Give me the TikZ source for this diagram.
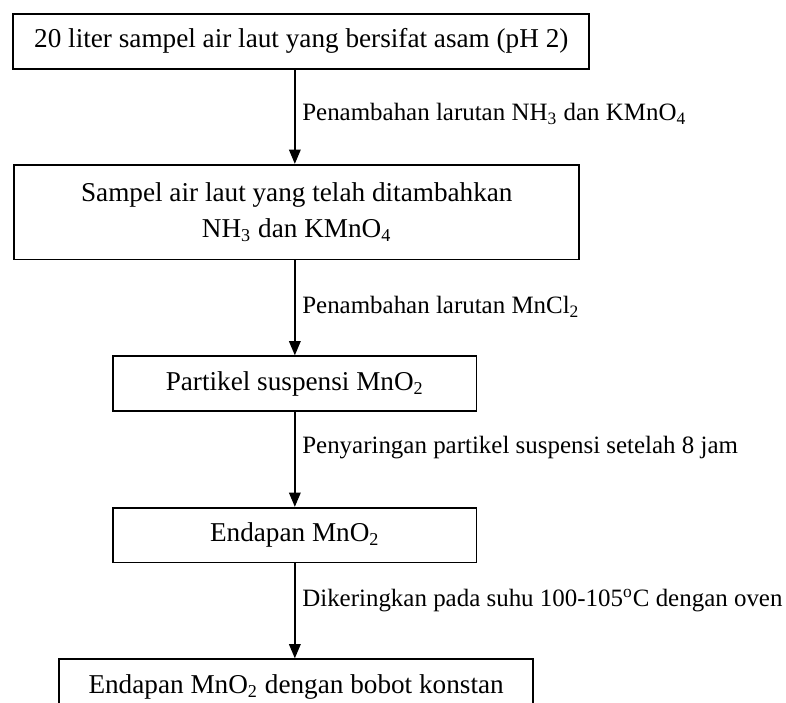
\documentclass[tikz,border=0pt]{standalone}
\usepackage{fontspec}
\setmainfont{Liberation Serif}
\usetikzlibrary{arrows.meta, positioning}

\begin{document}
\begin{tikzpicture}[node distance=1.47cm,
    block/.style={rectangle, draw, thick, text centered, align=center, minimum height=0.85cm, inner sep=0pt, font=\fontsize{12}{16.2}\selectfont},
    note/.style={right, inner sep=3pt, font=\fontsize{11}{13}\selectfont},
    arrow/.style={semithick, -{Triangle[length=2.2mm, width=1.8mm]}}]
    \useasboundingbox (0,0) rectangle (12.183,-10.881);
    \clip (0,0) rectangle (12.183,-10.881);

    \node [block, minimum width=8.93cm] (sample) at (4.67,-0.64) {20 liter sampel air laut yang bersifat asam (pH 2)};
    \node [block, below=1.46cm of sample, xshift=-0.07cm, minimum width=8.76cm, minimum height=1.47cm] (mixed) {Sampel air laut yang telah ditambahkan\\NH\textsubscript{3} dan KMnO\textsubscript{4}};
    \node [block, below=of mixed, xshift=-0.03cm, minimum width=5.63cm] (suspension) {Partikel suspensi MnO\textsubscript{2}};
    \node [block, below=of suspension, minimum width=5.63cm] (residue) {Endapan MnO\textsubscript{2}};
    \node [block, below=of residue, xshift=0.02cm, minimum width=7.35cm] (dried) {Endapan MnO\textsubscript{2} dengan bobot konstan};

    \draw [arrow] (sample.south -| suspension) -- node[note, pos=0.47] {Penambahan larutan NH\textsubscript{3} dan KMnO\textsubscript{4}} (mixed.north -| suspension);
    \draw [arrow] (mixed.south -| suspension) -- node[note, pos=0.49] {Penambahan larutan MnCl\textsubscript{2}} (suspension);
    \draw [arrow] (suspension) -- node[note, pos=0.37] {Penyaringan partikel suspensi setelah 8 jam} (residue);
    \draw [arrow] (residue) -- node[note, pos=0.39] {Dikeringkan pada suhu 100-105\textsuperscript{o}C dengan oven} (dried.north -| residue);
\end{tikzpicture}
\end{document}
